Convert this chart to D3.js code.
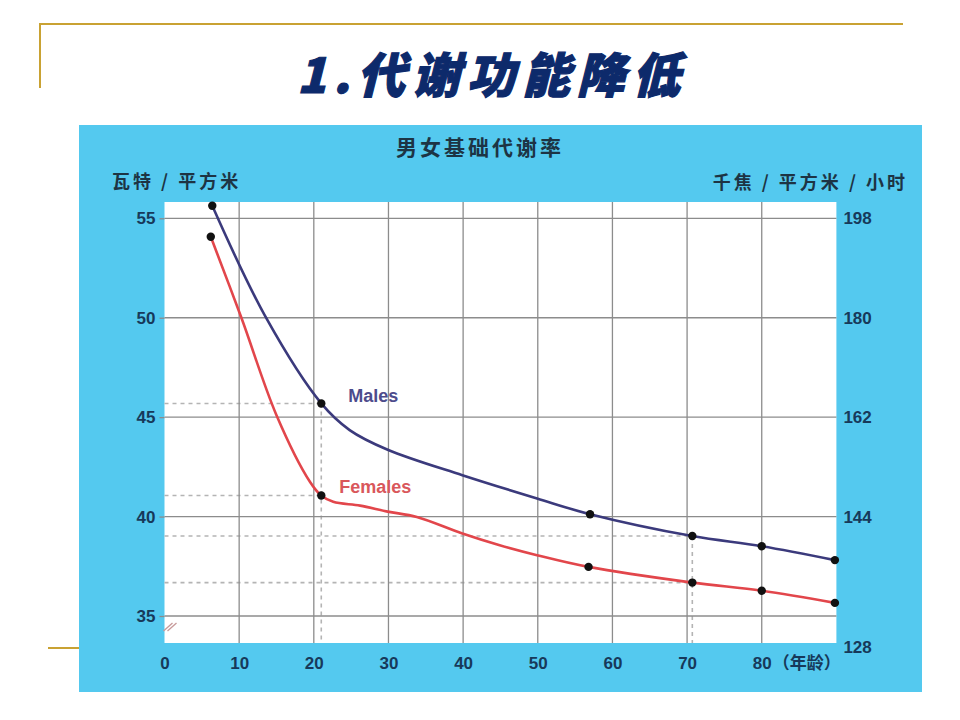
<!DOCTYPE html>
<html>
<head>
<meta charset="utf-8">
<script src="https://cdn.jsdelivr.net/npm/d3@7"></script>
<style>
  html, body { margin: 0; padding: 0; background: #fff; }
  svg { display: block; }
</style>
</head>
<body>
<script>
// values
const ageTicks = [0, 10, 20, 30, 40, 50, 60, 70, 80];
const wattTicks = [35, 40, 45, 50, 55];
const kjTicks = [198, 180, 162, 144];
const kjBottomLabel = '128';

const maleAges   = [6.4, 13.6, 21.0, 24.8, 29.9, 39.9, 49.9, 57.0, 70.7, 80.0, 89.8];
const maleValues = [55.63, 50.0, 45.69, 44.35, 43.36, 42.08, 40.91, 40.12, 39.02, 38.51, 37.81];
const maleDotAges = [6.4, 21.0, 57.0, 70.7, 80.0, 89.8];

const femaleAges   = [6.2, 10.3, 15.0, 19.5, 21.0, 22.6, 26.2, 29.9, 33.8, 39.9, 44.9, 49.9, 56.8, 70.7, 80.0, 89.8];
const femaleValues = [54.07, 50.0, 45.10, 41.74, 41.06, 40.74, 40.55, 40.25, 39.98, 39.15, 38.56, 38.06, 37.47, 36.68, 36.27, 35.66];
const femaleDotAges = [6.2, 21.0, 56.8, 70.7, 80.0, 89.8];

const guideAges = [21.0, 70.7]; // ages with dotted read-off lines

const W = 960, H = 720;
const plot = { left: 164.5, right: 836.4, top: 202, bottom: 643 };
const cjk = '"Noto Sans CJK SC", "Noto Sans", sans-serif';
const latin = '"Liberation Sans", Arial, sans-serif';
const tickColor = '#17395a';
const gold = '#c9a233';

const svg = d3.select('body').append('svg').attr('width', W).attr('height', H);

// slide frame
svg.append('path').attr('fill', 'none').attr('stroke', gold).attr('stroke-width', 2)
  .attr('d', 'M40,88 V24 H903');
svg.append('line').attr('x1', 48).attr('x2', 80).attr('y1', 648).attr('y2', 648)
  .attr('stroke', gold).attr('stroke-width', 2);

svg.append('text')
  .attr('x', 297).attr('y', 93)
  .style('font-family', cjk).style('font-size', '48px').style('font-weight', 900)
  .style('font-style', 'italic').style('letter-spacing', '7px')
  .attr('fill', '#0d2a6b').attr('stroke', '#0d2a6b').attr('stroke-width', 1.2)
  .text('1.代谢功能降低');

// blue panel
svg.append('rect').attr('x', 79).attr('y', 125).attr('width', 843).attr('height', 567)
  .attr('fill', '#54c9ef');

svg.append('text').attr('x', 480).attr('y', 155).attr('text-anchor', 'middle')
  .style('font-family', cjk).style('font-size', '21px').style('font-weight', 700)
  .style('letter-spacing', '3px').attr('fill', '#1d3444')
  .text('男女基础代谢率');

svg.append('text').attr('x', 112).attr('y', 188)
  .style('font-family', cjk).style('font-size', '18px').style('font-weight', 700)
  .style('letter-spacing', '3px').attr('fill', '#1d3444').text('瓦特 / 平方米');
svg.append('text').attr('x', 908).attr('y', 189).attr('text-anchor', 'end')
  .style('font-family', cjk).style('font-size', '18px').style('font-weight', 700)
  .style('letter-spacing', '3px').attr('fill', '#1d3444').text('千焦 / 平方米 / 小时');

const x = d3.scaleLinear().domain([0, 90]).range([plot.left, plot.right]);
const y = d3.scaleLinear().domain([35, 55]).range([616, 218.3]);
const yR = d3.scaleLinear().domain([35 * 3.6, 55 * 3.6]).range(y.range());

svg.append('rect')
  .attr('x', plot.left).attr('y', plot.top)
  .attr('width', plot.right - plot.left).attr('height', plot.bottom - plot.top)
  .attr('fill', '#fff');

// dotted read-off guides
const gGuide = svg.append('g').attr('stroke', '#b4b4b4').attr('stroke-width', 1.6)
  .attr('stroke-dasharray', '4,4').attr('fill', 'none');
const maleAt = a => maleValues[maleAges.indexOf(a)];
const femaleAt = a => femaleValues[femaleAges.indexOf(a)];
guideAges.forEach(a => {
  [maleAt(a), femaleAt(a)].forEach(v => {
    gGuide.append('line').attr('x1', plot.left).attr('x2', x(a)).attr('y1', y(v)).attr('y2', y(v));
  });
  gGuide.append('line').attr('x1', x(a)).attr('x2', x(a)).attr('y1', y(maleAt(a))).attr('y2', plot.bottom);
});

// grid
const gGrid = svg.append('g').attr('stroke', '#8c8c8c').attr('stroke-width', 1.3);
gGrid.selectAll('line.h').data(wattTicks).join('line').attr('class', 'h')
  .attr('x1', plot.left).attr('x2', plot.right).attr('y1', d => y(d)).attr('y2', d => y(d));
gGrid.selectAll('line.v').data(ageTicks.filter(d => d > 0)).join('line').attr('class', 'v')
  .attr('x1', d => x(d)).attr('x2', d => x(d)).attr('y1', plot.top).attr('y2', plot.bottom);

// axes
function styleAxis(g){
  g.select('.domain').remove();
  g.selectAll('.tick line').attr('stroke', '#8c8c8c').attr('stroke-width', 1.3);
  g.selectAll('.tick text').attr('fill', tickColor)
    .style('font-family', latin).style('font-size', '17px').style('font-weight', 700);
}
svg.append('g').attr('transform', `translate(${plot.left},0)`)
  .call(d3.axisLeft(y).tickValues(wattTicks).tickSize(5).tickPadding(4))
  .call(styleAxis);
svg.append('g').attr('transform', `translate(${plot.right},0)`)
  .call(d3.axisRight(yR).tickValues(kjTicks).tickSize(0).tickPadding(7))
  .call(styleAxis);
svg.append('g').attr('transform', `translate(0,${plot.bottom})`)
  .call(d3.axisBottom(x).tickValues(ageTicks).tickSize(0).tickPadding(14))
  .call(styleAxis);

svg.append('text').attr('x', plot.right + 7).attr('y', plot.bottom + 5).attr('dy', '0.32em')
  .attr('fill', tickColor).style('font-family', latin).style('font-size', '17px')
  .style('font-weight', 700).text(kjBottomLabel);
svg.append('text').attr('x', x(80) + 11).attr('y', plot.bottom + 20).attr('dy', '0.35em')
  .attr('fill', tickColor).style('font-family', cjk).style('font-size', '17px')
  .style('font-weight', 700).text('（年龄）');

// axis break mark
const gBreak = svg.append('g').attr('stroke', '#c79a9a').attr('stroke-width', 1.3);
[0, 4].forEach(o => {
  gBreak.append('line')
    .attr('x1', plot.left - 1 + o).attr('y1', y(35) + 15)
    .attr('x2', plot.left + 8 + o).attr('y2', y(35) + 7);
});

// series
const line = d3.line().x(d => x(d[0])).y(d => y(d[1])).curve(d3.curveCatmullRom.alpha(0.5));
const series = [
  { name: 'Males', ages: maleAges, values: maleValues, dots: maleDotAges, color: '#3b3a7c', label: '#4d4c8c', at: [24.6, 45.75] },
  { name: 'Females', ages: femaleAges, values: femaleValues, dots: femaleDotAges, color: '#e2464b', label: '#d9575b', at: [23.4, 41.2] }
];
series.forEach(s => {
  const pts = s.ages.map((a, i) => [a, s.values[i]]);
  svg.append('path').datum(pts).attr('d', line)
    .attr('fill', 'none').attr('stroke', s.color).attr('stroke-width', 2.6);
  svg.append('g').selectAll('circle').data(pts.filter(p => s.dots.includes(p[0]))).join('circle')
    .attr('cx', d => x(d[0])).attr('cy', d => y(d[1])).attr('r', 4.2).attr('fill', '#111');
  svg.append('text').attr('x', x(s.at[0])).attr('y', y(s.at[1]))
    .style('font-family', latin).style('font-size', '18px').style('font-weight', 700)
    .attr('fill', s.label).text(s.name);
});
</script>
</body>
</html>
